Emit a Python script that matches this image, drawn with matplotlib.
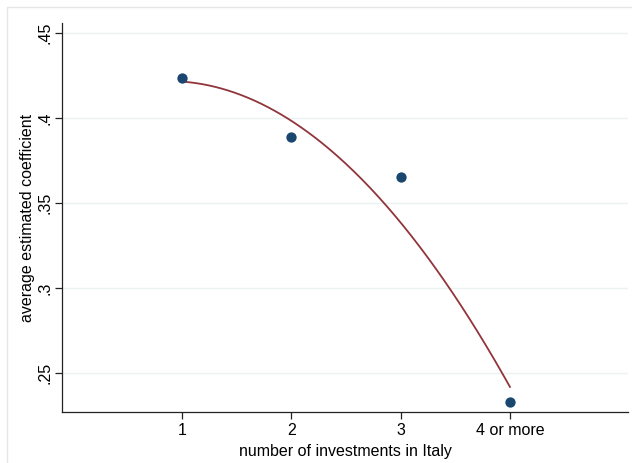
import numpy as np
import matplotlib
matplotlib.use("Agg")
import matplotlib.pyplot as plt
from matplotlib.patches import Rectangle

plt.rcParams["font.family"] = ["Liberation Sans", "DejaVu Sans"]

# data
x_pos = [1, 2, 3, 4]
x_labels = ["1", "2", "3", "4 or more"]
avg_coef = [0.4235, 0.389, 0.365, 0.233]

# fitted curve, read at the four categories
fit_x = [1, 2, 3, 4]
fit_y = [0.4216, 0.3978, 0.339, 0.2416]

y_ticks = [0.25, 0.3, 0.35, 0.4, 0.45]
y_tick_labels = [".25", ".3", ".35", ".4", ".45"]

fig = plt.figure(figsize=(6.32, 4.63), dpi=100)
fig.patches.append(Rectangle((7 / 632, -0.1), 1.2, (463 - 7) / 463 + 0.1,
                             transform=fig.transFigure, fill=False,
                             edgecolor="#e6e6e6", linewidth=1, zorder=0))

ax = fig.add_axes([62 / 632, 51 / 463, (628 - 62) / 632, (412 - 23) / 463])

# smooth quadratic through the read curve values
coef = np.polyfit(fit_x, fit_y, 2)
xs = np.linspace(fit_x[0], fit_x[-1], 200)
ax.plot(xs, np.polyval(coef, xs), color="#90353b", linewidth=1.3, zorder=2)
ax.scatter(x_pos, avg_coef, s=55, color="#1a476f", zorder=3, linewidths=0)

ax.set_xlim(-0.098, 5.08)
ax.set_ylim(0.227, 0.4559)

ax.set_yticks(y_ticks)
ax.set_yticklabels(y_tick_labels, rotation=90, va="center", fontsize=11.5)
ax.set_xticks(x_pos)
ax.set_xticklabels(x_labels, fontsize=11.5)
ax.tick_params(axis="both", length=5, width=0.9, color="#222222")
ax.tick_params(axis="x", pad=3)
ax.tick_params(axis="y", pad=2)

ax.yaxis.grid(True, color="#eaf2f3", linewidth=1)
ax.set_axisbelow(True)

for side in ["top", "right"]:
    ax.spines[side].set_visible(False)
for side in ["left", "bottom"]:
    ax.spines[side].set_color("#222222")
    ax.spines[side].set_linewidth(0.9)

ax.set_xlabel("number of investments in Italy", fontsize=11.5, labelpad=4)
ax.set_ylabel("average estimated coefficient", fontsize=11.5, labelpad=1.5)

fig.savefig("out.png", dpi=100)
